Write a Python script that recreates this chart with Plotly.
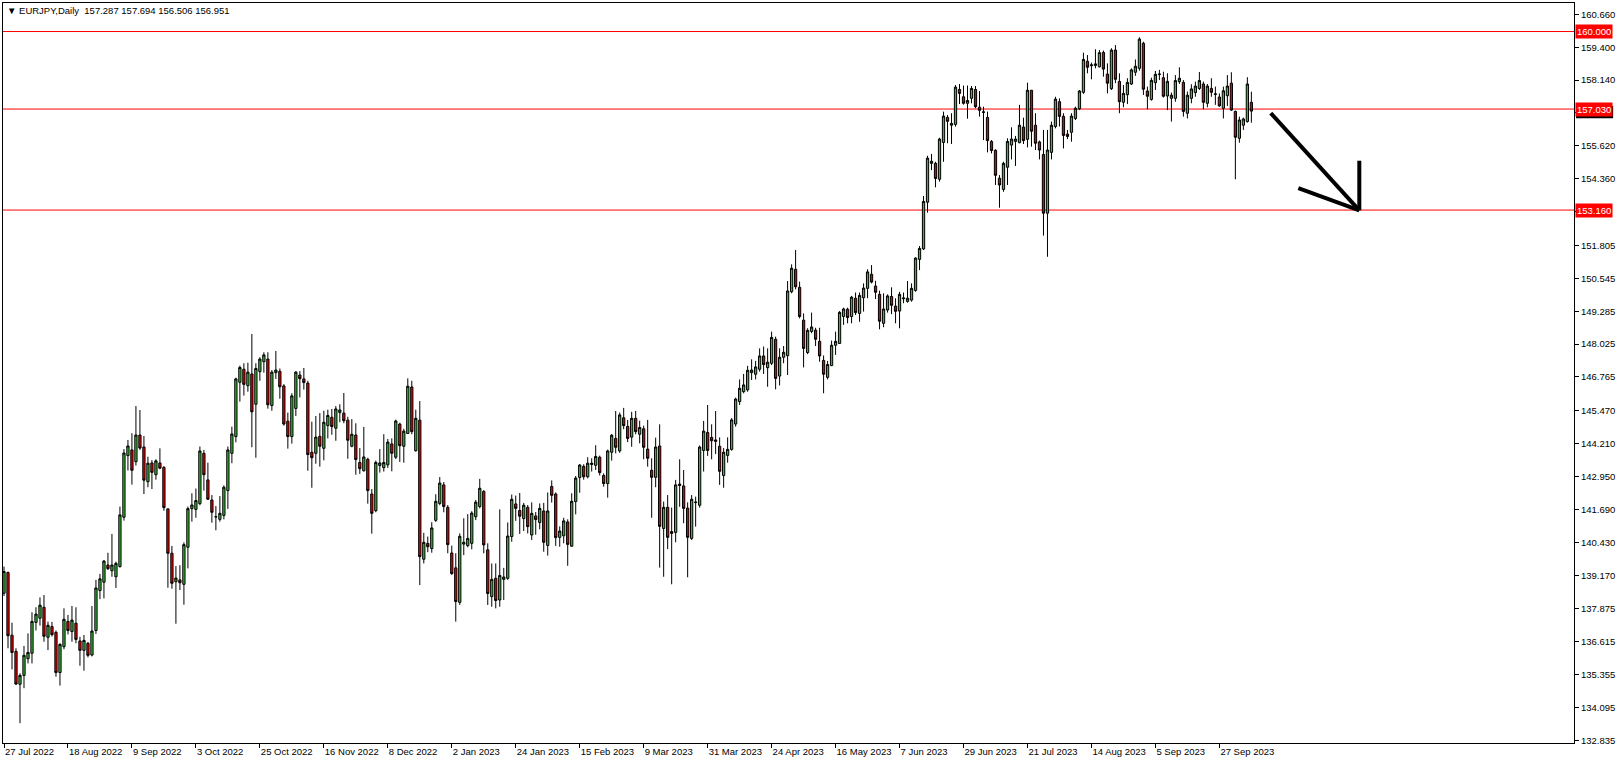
import plotly.graph_objects as go

# ---------------- data (EURJPY daily) ----------------
opens = [
138.48,139.27,136.87,136.25,134.99,135.33,135.97,136.18,137.36,137.52,
137.94,136.79,137.20,136.98,135.44,136.43,137.40,137.01,137.33,136.65,
136.29,136.56,136.11,137.05,138.58,138.90,139.56,139.34,139.11,139.50,
141.39,143.75,143.97,143.52,144.54,144.08,142.75,143.47,143.02,143.47,
143.30,141.71,140.01,138.92,138.99,138.82,140.24,141.72,141.69,141.91,
143.84,142.82,142.05,141.40,141.31,141.46,142.41,143.84,144.48,146.56,
147.06,146.43,146.88,145.72,146.97,147.35,147.45,145.67,146.93,146.98,
146.42,145.07,144.48,145.56,146.84,146.69,146.53,143.88,143.84,144.49,
144.03,144.90,145.22,144.80,145.40,145.38,145.11,144.11,144.54,143.49,
143.17,143.61,142.28,141.64,143.37,143.29,143.40,144.20,143.69,144.96,
144.11,144.60,146.38,143.94,145.11,139.78,140.39,140.19,141.27,141.92,
142.63,141.77,140.02,139.45,138.13,140.36,140.30,140.39,141.41,141.80,
142.38,140.14,138.35,139.05,138.22,139.01,139.05,140.65,141.90,141.65,
141.34,141.77,140.71,141.44,141.19,141.63,140.31,142.57,142.28,140.62,
140.68,141.21,140.28,141.99,142.91,143.34,142.94,143.41,143.38,143.69,
142.99,142.68,143.88,144.41,143.93,145.20,144.87,144.46,145.18,144.57,
144.78,144.00,143.19,142.92,144.12,140.96,141.77,140.84,140.81,142.66,
142.59,141.74,140.58,141.95,141.85,143.95,144.64,144.45,144.35,144.11,
142.99,143.76,143.99,144.96,145.82,146.20,146.27,146.93,146.87,147.06,
147.57,147.12,147.29,148.21,146.80,147.52,147.58,150.03,150.89,150.20,
148.94,147.70,148.51,148.56,148.13,147.40,146.75,147.20,147.98,148.05,
149.08,149.36,149.08,149.78,149.20,149.80,150.16,150.70,150.25,149.93,
148.82,149.33,149.85,149.48,149.29,149.76,149.66,149.71,150.08,151.27,
151.67,153.46,154.95,154.95,154.34,155.75,156.71,156.41,156.44,157.78,
157.50,157.25,157.44,157.78,157.10,156.90,156.71,155.79,155.45,154.38,
153.95,154.80,155.65,155.79,155.74,156.34,155.87,157.75,156.41,155.77,
155.29,153.04,155.37,156.36,157.31,156.75,156.07,156.14,156.67,157.04,
157.67,158.86,158.69,158.70,158.65,159.20,158.37,157.81,159.29,158.09,
157.29,157.58,157.99,158.44,158.59,159.55,157.72,157.40,158.04,158.35,
158.23,157.53,157.44,157.44,158.08,158.05,156.87,157.44,157.66,157.82,
157.99,157.25,157.82,157.59,157.49,157.06,157.54,158.02,156.94,155.91,
156.41,156.55,157.287]
highs = [
139.50,139.31,137.35,136.37,135.41,136.46,136.94,137.75,137.94,138.32,
138.41,137.39,137.38,137.05,136.56,137.90,137.65,137.99,137.94,136.81,
136.88,136.61,137.99,138.99,139.22,139.75,140.03,140.75,139.69,141.80,
144.00,144.35,144.61,145.65,145.50,144.50,143.71,143.58,143.61,144.03,
143.35,141.73,140.29,139.52,139.55,140.43,141.80,142.31,142.49,144.10,
143.97,143.48,142.24,141.82,142.20,142.61,144.10,144.86,146.74,147.20,
147.29,147.31,148.41,147.29,147.52,147.71,147.71,147.03,147.76,147.09,
146.49,145.40,146.14,146.99,146.99,147.11,146.62,145.05,145.27,145.38,
145.47,145.51,145.54,145.65,145.72,146.15,145.24,145.15,144.99,144.04,
144.85,143.67,142.47,143.56,144.00,144.57,144.39,144.41,145.13,145.01,
144.78,146.71,146.62,145.51,145.84,140.79,140.65,141.20,142.27,142.93,
142.74,141.86,140.30,140.01,140.77,141.35,141.51,141.62,142.05,142.86,
142.43,140.39,139.62,139.62,141.69,139.45,141.19,142.26,142.22,142.32,
141.94,141.86,141.96,141.59,141.92,141.94,142.34,142.80,142.34,141.04,
141.37,141.31,142.31,142.97,143.43,143.42,143.69,143.65,144.15,143.75,
143.07,143.98,144.58,145.46,145.40,145.58,145.12,145.43,145.46,145.09,
144.90,145.12,143.65,144.44,144.95,141.99,142.24,141.76,142.82,143.61,
143.20,141.96,142.24,142.18,144.14,145.08,145.69,144.95,145.46,144.45,
144.04,144.45,145.19,145.97,146.67,146.88,147.19,147.44,147.38,147.86,
147.93,147.86,148.50,148.31,147.86,147.95,150.44,151.08,151.63,150.42,
149.20,148.63,149.23,148.65,148.65,147.59,147.38,148.16,148.50,149.29,
149.42,149.42,149.87,150.00,150.00,150.35,150.89,151.05,150.45,150.07,
149.97,149.93,150.20,149.78,150.03,150.00,150.44,150.35,151.35,151.78,
153.70,155.24,155.31,155.01,155.93,156.93,156.80,156.87,157.95,157.99,
157.93,157.93,157.91,157.91,157.72,157.12,156.93,155.84,155.49,154.50,
155.01,155.91,156.33,156.00,157.19,156.70,158.04,157.76,156.87,155.82,
156.23,156.23,156.55,157.50,157.44,156.87,156.23,156.87,157.12,157.76,
159.19,159.10,158.81,159.32,159.29,159.27,158.78,159.36,159.48,158.40,
157.95,158.21,158.59,158.93,159.78,159.61,157.89,158.23,158.49,158.53,
158.46,158.40,157.66,158.33,158.63,158.14,157.70,157.98,158.08,158.45,
158.08,157.99,158.21,157.89,157.63,157.89,158.33,158.44,156.97,156.74,
156.70,158.25,157.694]
lows = [
138.37,136.37,135.56,134.96,133.50,134.84,135.79,135.79,137.05,137.24,
136.62,136.30,136.82,135.28,134.94,136.33,136.90,136.62,136.56,135.70,
135.51,136.02,136.06,136.92,138.25,138.28,139.37,139.11,138.68,139.46,
141.26,143.18,142.64,143.37,143.97,142.28,142.54,142.47,142.83,143.23,
141.64,138.69,138.65,137.31,138.60,138.04,139.43,141.22,141.37,141.85,
142.41,142.05,141.18,140.89,141.22,141.31,141.71,143.46,144.26,145.82,
146.05,146.20,144.07,143.67,146.62,146.93,145.55,145.47,146.69,145.93,
144.90,144.02,144.21,145.27,145.98,146.28,143.17,142.52,143.44,143.33,
143.57,144.41,144.55,144.32,145.03,144.99,143.63,144.07,143.02,143.05,
143.14,141.91,140.76,141.58,143.10,143.14,143.28,143.15,143.62,143.51,
143.48,144.58,144.57,143.90,138.79,139.62,140.05,140.03,141.21,141.85,
141.58,140.01,139.18,137.39,138.03,139.94,140.24,140.16,141.28,141.73,
140.01,138.03,137.96,137.90,137.96,138.22,138.99,140.45,141.25,140.75,
140.86,140.77,140.52,140.72,140.93,140.07,139.92,141.95,140.29,140.26,
140.39,139.53,140.26,141.50,142.33,142.83,142.88,143.14,143.20,142.99,
142.56,142.14,143.56,143.84,143.86,144.76,144.27,144.09,144.57,144.22,
143.61,143.33,141.37,142.54,139.46,139.11,140.17,138.82,140.43,141.79,
141.16,139.09,140.52,141.03,141.76,143.14,143.74,143.61,143.81,142.63,
142.52,143.48,143.94,144.86,145.69,146.14,146.20,146.65,146.67,146.97,
146.88,146.39,147.22,146.29,146.44,147.29,146.84,149.97,150.12,149.01,
147.13,147.64,148.44,147.95,147.35,146.14,146.67,147.18,147.61,148.04,
148.76,148.82,148.82,149.14,148.88,149.27,149.78,150.35,149.75,148.59,
148.67,149.23,149.17,148.82,148.63,149.59,149.61,149.65,150.03,150.86,
151.63,153.06,154.69,154.03,154.25,155.01,155.72,155.69,156.36,157.22,
157.20,156.66,157.25,157.06,156.74,155.84,155.37,155.33,154.12,153.25,
153.86,154.12,155.10,154.85,155.72,155.69,155.56,155.59,155.46,155.10,
152.18,151.37,155.10,156.29,156.36,155.52,155.88,155.78,156.61,156.99,
157.61,158.40,158.17,158.59,158.62,158.27,157.63,157.76,158.02,156.87,
157.10,157.22,157.95,158.30,158.50,157.57,157.02,157.35,157.76,158.14,
157.47,156.99,156.55,157.31,157.99,156.74,156.67,157.25,157.50,157.76,
157.02,157.10,157.50,157.19,157.12,156.67,157.15,156.96,154.34,155.74,
156.23,156.51,156.506]
closes = [
139.31,136.85,136.21,135.00,135.33,136.10,136.21,137.40,137.68,138.02,
136.83,137.25,136.89,135.44,136.52,137.48,137.05,137.45,136.71,136.29,
136.67,136.10,137.03,138.68,139.03,139.71,139.42,139.56,139.62,141.48,
143.85,144.12,143.19,144.54,144.04,142.81,143.46,143.11,143.55,143.27,
141.76,140.01,138.86,139.06,138.88,140.34,141.72,141.86,142.03,143.93,
143.02,142.08,141.58,141.41,141.54,142.54,143.97,144.58,146.69,147.13,
146.48,146.95,145.43,147.09,147.45,147.61,145.70,146.95,147.03,146.39,
144.96,144.48,146.04,146.95,146.70,146.55,143.79,143.67,144.46,144.11,
145.03,145.29,144.86,145.54,145.50,145.09,144.34,144.57,143.60,143.25,
143.70,142.41,141.54,143.49,143.47,143.49,144.27,143.84,145.08,144.13,
144.69,146.41,144.67,145.18,139.88,140.43,140.26,140.98,142.00,142.70,
141.80,140.34,139.23,138.16,140.66,140.43,140.58,141.55,141.97,142.50,
140.33,138.47,139.01,138.20,139.16,139.10,140.67,142.08,141.73,141.43,
141.85,141.03,141.54,141.30,141.73,140.43,141.63,142.23,140.61,140.86,
141.25,140.35,142.00,142.89,143.39,142.94,143.46,143.46,143.72,143.10,
142.68,143.93,144.53,144.07,145.31,144.90,144.41,145.18,144.67,144.83,
144.07,143.65,142.92,144.08,141.04,141.77,140.62,140.77,142.63,142.61,
141.73,140.62,142.08,141.97,144.08,144.69,143.95,144.32,144.30,143.15,
143.88,143.99,145.12,145.92,146.33,146.46,147.02,147.03,147.15,147.57,
147.24,147.33,148.28,146.71,147.52,147.71,150.06,150.93,150.22,149.08,
147.86,148.55,148.68,148.21,147.57,146.87,147.24,147.98,148.13,149.24,
149.37,149.04,149.82,149.23,149.89,150.17,150.79,150.40,150.01,148.90,
149.37,149.87,149.51,149.28,149.93,149.79,149.78,150.16,151.32,151.69,
153.49,155.15,155.03,154.37,155.88,156.76,156.56,156.48,157.87,157.63,
157.25,157.36,157.82,157.12,156.98,156.92,155.82,155.44,154.49,154.12,
154.95,155.79,155.88,155.88,156.41,155.82,157.75,156.18,155.72,155.46,
153.04,155.46,156.41,157.41,156.75,156.02,155.98,156.76,157.06,157.72,
158.93,158.63,158.72,158.76,159.19,158.56,158.02,159.29,158.17,157.31,
157.63,158.05,158.53,158.67,159.71,157.79,157.52,158.13,158.36,158.37,
157.52,158.09,157.56,158.12,158.21,156.94,157.56,157.80,157.91,158.12,
157.29,157.91,157.67,157.61,157.15,157.73,157.91,156.99,155.95,156.61,
156.65,157.99,156.951]

date_labels = ["27 Jul 2022", "18 Aug 2022", "9 Sep 2022", "3 Oct 2022", "25 Oct 2022",
               "16 Nov 2022", "8 Dec 2022", "2 Jan 2023", "24 Jan 2023", "15 Feb 2023",
               "9 Mar 2023", "31 Mar 2023", "24 Apr 2023", "16 May 2023", "7 Jun 2023",
               "29 Jun 2023", "21 Jul 2023", "14 Aug 2023", "5 Sep 2023", "27 Sep 2023"]
bars_per_label = 16

price_ticks = [160.66, 159.40, 158.14, 156.88, 155.62, 154.36, 153.10, 151.805, 150.545,
               149.285, 148.025, 146.765, 145.47, 144.21, 142.95, 141.69, 140.43, 139.17,
               137.875, 136.615, 135.355, 134.095, 132.835]
hidden_ticks = [156.88, 153.10]   # covered by the price labels in the reference

levels = [160.000, 157.030, 153.160]
bid_price = 156.951
title_text = "▼ EURJPY,Daily  157.287 157.694 156.506 156.951"

# hand-drawn arrow (bar index, price)
arrow_shaft = [(316.85, 156.87), (339.0, 153.15)]
arrow_right = [(339.0, 155.05), (339.0, 153.15)]
arrow_left = [(323.75, 154.00), (339.0, 153.15)]

# ---------------- figure ----------------
bars = list(range(len(opens)))
GREEN = "#36B936"
RED = "#E60000"
FONT = "Liberation Sans"
FS = 9.5

fig = go.Figure()
fig.add_trace(go.Candlestick(
    x=bars, open=opens, high=highs, low=lows, close=closes,
    increasing=dict(line=dict(color="black", width=1), fillcolor=GREEN),
    decreasing=dict(line=dict(color="black", width=1), fillcolor=RED),
    whiskerwidth=0, showlegend=False, hoverinfo="skip"))

shapes = []
for lv in levels:
    shapes.append(dict(type="line", xref="paper", yref="y", x0=0, x1=1, y0=lv, y1=lv,
                       line=dict(color="#FF0000", width=1), layer="below"))
for seg in (arrow_shaft, arrow_right, arrow_left):
    shapes.append(dict(type="line", xref="x", yref="y",
                       x0=seg[0][0], y0=seg[0][1], x1=seg[1][0], y1=seg[1][1],
                       line=dict(color="black", width=4)))
# black bid-price box, mostly hidden behind the 157.030 label
shapes.append(dict(type="rect", xref="paper", yref="y", x0=1.0013, x1=1.0249,
                   y0=bid_price - 0.27, y1=bid_price + 0.2,
                   fillcolor="black", line=dict(width=0)))

annotations = []
annotations.append(dict(xref="paper", yref="paper", x=0.0013, y=0.9905, xanchor="left",
                        yanchor="middle", text=title_text, showarrow=False,
                        font=dict(family=FONT, size=FS, color="black")))
for lv in levels:
    annotations.append(dict(xref="paper", yref="y", x=1, y=lv, xanchor="left",
                            yanchor="middle", xshift=1, text="%.3f" % lv, showarrow=False,
                            bgcolor="#FF0000", borderpad=1,
                            font=dict(family=FONT, size=FS, color="white")))

fig.update_layout(
    width=1620, height=764,
    margin=dict(l=3, r=46, t=3, b=21, autoexpand=False),
    paper_bgcolor="white", plot_bgcolor="white",
    shapes=shapes, annotations=annotations,
    showlegend=False, boxgap=0.25, boxgroupgap=0.25,
    font=dict(family=FONT, size=FS, color="black"),
    xaxis=dict(range=[-0.25, 392.7], rangeslider=dict(visible=False),
               tickvals=[i * bars_per_label for i in range(len(date_labels))],
               ticktext=date_labels, ticks="outside", ticklen=4, tickcolor="black",
               ticklabelposition="outside right",
               showgrid=False, zeroline=False, showline=True, linecolor="black",
               linewidth=1, mirror=True, tickfont=dict(family=FONT, size=FS, color="black")),
    yaxis=dict(range=[132.74, 161.093], side="right",
               tickvals=price_ticks,
               ticktext=["" if v in hidden_ticks else "%.3f" % v for v in price_ticks],
               ticks="outside", ticklen=4, tickcolor="black",
               showgrid=False, zeroline=False, showline=True, linecolor="black",
               linewidth=1, mirror=True, tickfont=dict(family=FONT, size=FS, color="black")),
)

fig.write_html("out.html", config={"displayModeBar": False},
               post_script="document.body.style.margin='0px';document.body.style.padding='0px';")
